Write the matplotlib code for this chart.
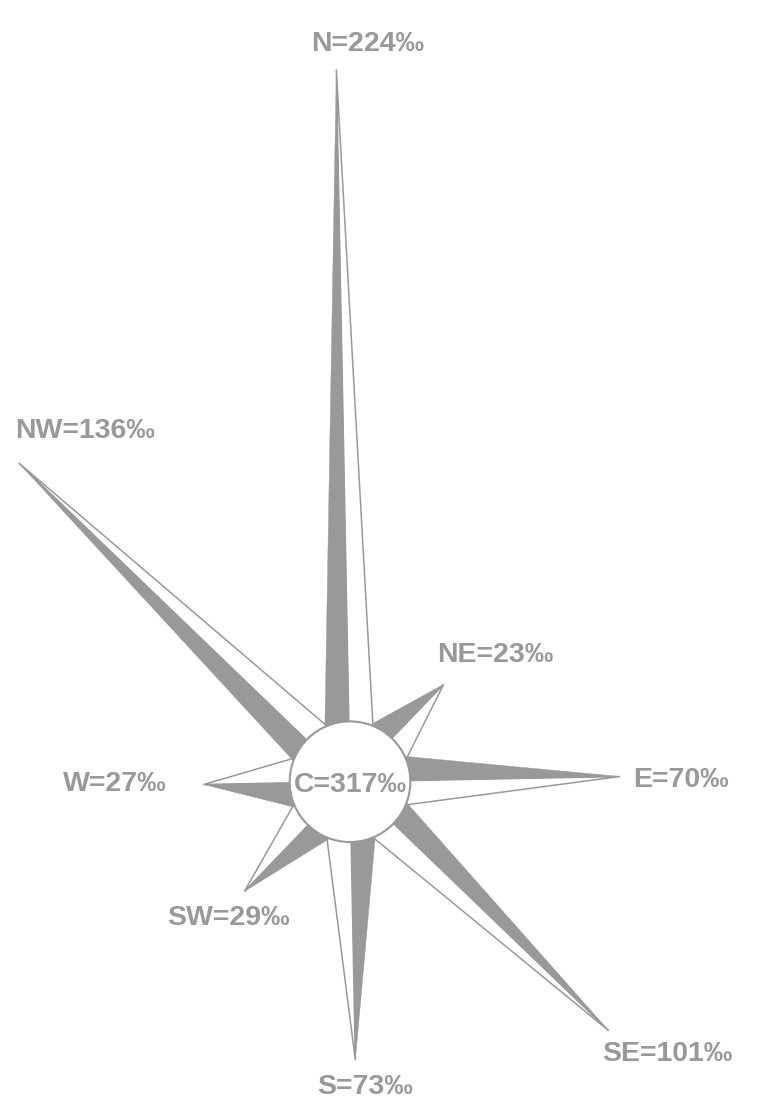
# -*- coding: utf-8 -*-
import matplotlib
matplotlib.use('Agg')
import matplotlib.pyplot as plt
from matplotlib.patches import Polygon, Circle
import numpy as np

plt.rcParams['font.family'] = ['Liberation Sans', 'DejaVu Sans']

# wind direction frequencies (per mille)
dirs = ['N', 'NE', 'E', 'SE', 'S', 'SW', 'W', 'NW']
freq = [224, 23, 70, 101, 73, 29, 27, 136]
calm = 317

# compass angle of each direction (deg, counter clockwise from east)
angles = [90, 45, 0, -45, -90, -135, 180, 135]

grey = '#999999'
rot = 1.1          # the rose is turned a little
R = 21.0           # radius of the calm circle
Rb = 21.8          # radius where the ray bases sit
base = 24.0        # ray length offset from the center
half = 22.5        # half opening of each ray

# label offsets in pixels from the tip of each ray
lab_off = {'N': (31, 18), 'NE': (52, 22), 'E': (61, -10), 'SE': (59, -30),
           'S': (10, -34), 'SW': (-16, -34), 'W': (-89, -6), 'NW': (66, 25)}

fig = plt.figure(figsize=(7.63, 11), dpi=100)
ax = fig.add_axes([0, 0, 1, 1])
k = 2.873  # pixels per unit
ax.set_xlim(-350 / k, 413 / k)
ax.set_ylim(-318.3 / k, 781.7 / k)
ax.set_aspect('equal')
ax.axis('off')

def pt(a, r):
    a = np.radians(a + rot)
    return (r * np.cos(a), r * np.sin(a))

for d, v, a in zip(dirs, freq, angles):
    L = base + v
    tip = pt(a, L)
    left = pt(a + half, Rb)    # counter clockwise side -> filled
    right = pt(a - half, Rb)   # clockwise side -> white with outline
    ax.add_patch(Polygon([(0, 0), right, tip], closed=True, facecolor='white',
                         edgecolor=grey, lw=1.1, zorder=2))
    ax.add_patch(Polygon([(0, 0), left, tip], closed=True, facecolor=grey,
                         edgecolor=grey, lw=0.3, zorder=3))
    ax.annotate('%s=%d‰' % (d, v), xy=tip, xytext=lab_off[d], textcoords='offset pixels',
                ha='center', va='baseline', fontsize=20.5, fontweight='bold', color=grey)

ax.add_patch(Circle((0, 0), R, facecolor='white', edgecolor=grey, lw=1.5, zorder=5))
ax.annotate('C=%d‰' % calm, xy=(0, 0), xytext=(0, -10), textcoords='offset pixels',
            ha='center', va='baseline', fontsize=20.5, fontweight='bold', color=grey, zorder=6)

fig.savefig('out.png', dpi=100)
